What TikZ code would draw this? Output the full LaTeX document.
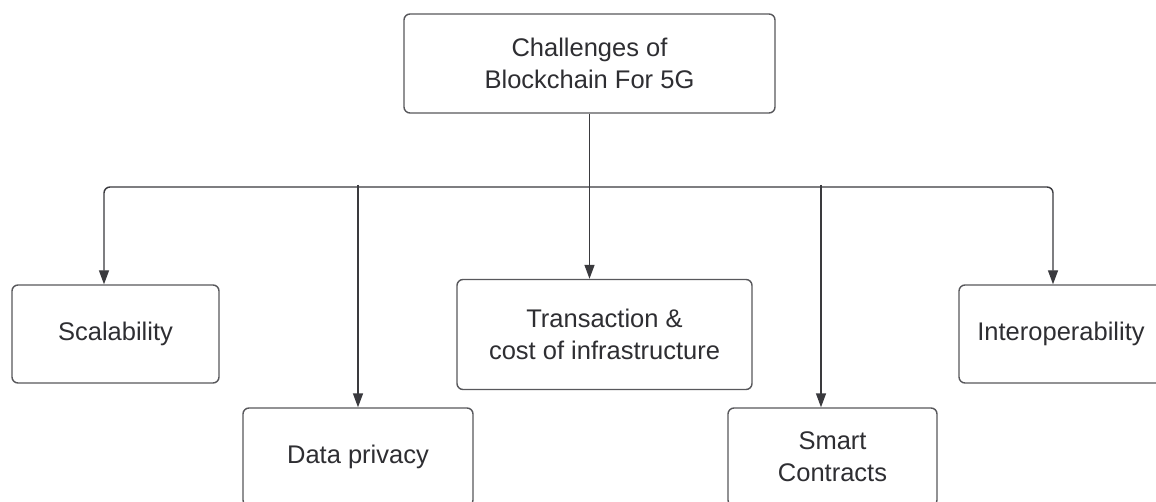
\documentclass[tikz,border=0pt]{standalone}
\usepackage{fontspec}
\setmainfont{Liberation Sans}
\usetikzlibrary{arrows.meta}
\definecolor{linec}{HTML}{3A3A3E}
\definecolor{boxc}{HTML}{58585C}
\definecolor{txtc}{HTML}{2E2E32}
\begin{document}
\begin{tikzpicture}[x=1pt,y=-1pt,
  box/.style={draw=boxc, line width=1.4pt, rounded corners=6pt, fill=white,
    text=txtc, align=center, inner sep=0pt,
    font=\fontsize{25.5}{32}\selectfont},
  arr/.style={draw=linec, line width=1.4pt, -{Triangle[length=14pt,width=10pt]}}]
\useasboundingbox (0,0) rectangle (1156,502);
\clip (0,0) rectangle (1156,502);
\fill[white] (0,0) rectangle (1156,502);
% nodes
\node[box, minimum width=371pt, minimum height=99pt] (top) at (589.5,63.5) {Challenges of\\Blockchain For 5G};
\node[box, minimum width=207pt, minimum height=98pt] (scal) at (115.5,334) {Scalability};
\node[box, minimum width=230pt, minimum height=98pt] (data) at (358,457) {Data privacy};
\node[box, minimum width=295pt, minimum height=110pt] (trans) at (604.5,334.5) {Transaction \&\\cost of infrastructure};
\node[box, minimum width=209pt, minimum height=98pt] (smart) at (832.5,457) {Smart\\Contracts};
\node[box, minimum width=204pt, minimum height=98pt] (inter) at (1061,334) {Interoperability};
% bus coordinates
\coordinate (busM) at (589.5,187);
\coordinate (busL) at (104,187);
\coordinate (busR) at (1053,187);
\coordinate (busD) at (358,185);
\coordinate (busS) at (821,185);
% connectors
\draw[arr] (top.south) -- (trans.north -| top.south);
\draw[arr, rounded corners=6pt] (busM) -| (scal.north -| busL);
\draw[arr, rounded corners=6pt] (busM) -| (inter.north -| busR);
\draw[arr] (busD) -- (data.north);
\draw[arr] (busS) -- (smart.north -| busS);
\end{tikzpicture}
\end{document}
